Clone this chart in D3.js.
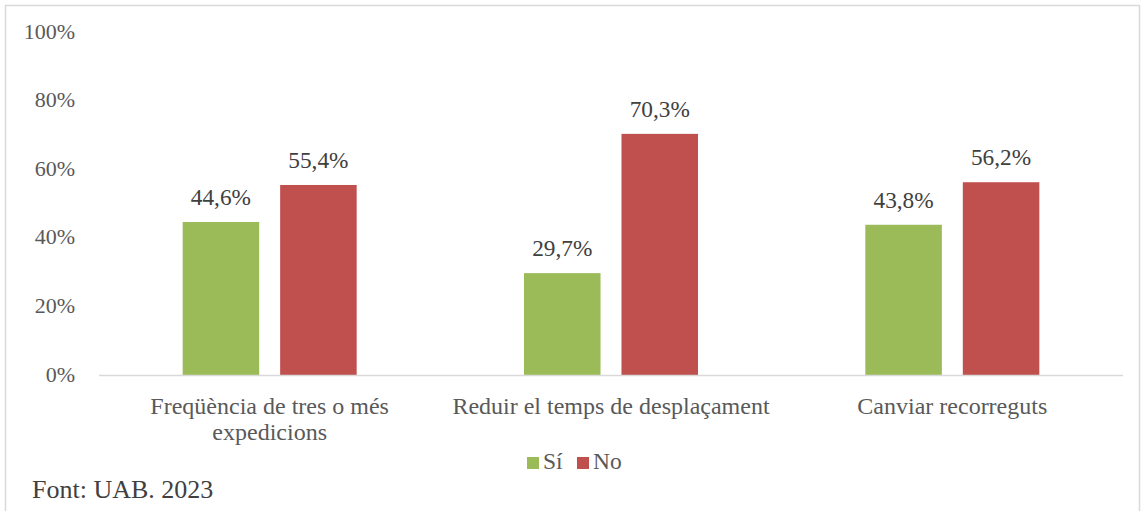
<!DOCTYPE html>
<html>
<head>
<meta charset="utf-8">
<script src="https://cdn.jsdelivr.net/npm/d3@7"></script>
<style>
  body { margin: 0; background: #fff; }
</style>
</head>
<body>
<div id="chart"></div>
<script>
// data
var categories = [["Freqüència de tres o més", "expedicions"], ["Reduir el temps de desplaçament"], ["Canviar recorreguts"]];
var series = ["Sí", "No"];
var valuesSi = [44.6, 29.7, 43.8];
var valuesNo = [55.4, 70.3, 56.2];
var yTicks = [0, 20, 40, 60, 80, 100];
var colors = ["#9bbb59", "#c0504d"];

var width = 1145, height = 511;
var margin = {top: 32, left: 99, right: 22, bottom: 136};
var serif = "'Liberation Serif', 'Times New Roman', serif";

var svg = d3.select("#chart").append("svg")
  .attr("width", width)
  .attr("height", height);

// chart border
svg.append("rect")
  .attr("x", 5.5).attr("y", 5.5)
  .attr("width", 1134).attr("height", 540)
  .attr("fill", "none")
  .attr("stroke", "#d9d9d9")
  .attr("stroke-width", 1.5);

var x0 = d3.scaleBand()
  .domain(d3.range(categories.length))
  .range([margin.left, width - margin.right])
  .padding(0);

var groupW = 174;
var x1 = d3.scaleBand()
  .domain(series)
  .range([0, groupW])
  .paddingInner(0.215)
  .paddingOuter(0);

var y = d3.scaleLinear()
  .domain([0, 100])
  .range([height - margin.bottom, margin.top]);

// y tick labels
svg.append("g")
  .selectAll("text")
  .data(yTicks)
  .enter().append("text")
  .attr("x", 75)
  .attr("y", function(d) { return y(d) + 6.5; })
  .attr("text-anchor", "end")
  .attr("font-family", serif)
  .style("font-size", "22px")
  .style("fill", "#595959")
  .text(function(d) { return d + "%"; });

// bars
var rows = categories.map(function(c, i) {
  return [{s: "Sí", v: valuesSi[i], c: 0}, {s: "No", v: valuesNo[i], c: 1}];
});

var groups = svg.selectAll("g.grp")
  .data(rows)
  .enter().append("g")
  .attr("class", "grp")
  .attr("transform", function(d, i) {
    return "translate(" + (x0(i) + x0.bandwidth() / 2 - groupW / 2) + ",0)";
  });

groups.selectAll("rect")
  .data(function(d) { return d; })
  .enter().append("rect")
  .attr("x", function(d) { return x1(d.s); })
  .attr("y", function(d) { return y(d.v); })
  .attr("width", x1.bandwidth())
  .attr("height", function(d) { return y(0) - y(d.v); })
  .attr("fill", function(d) { return colors[d.c]; });

groups.selectAll("text")
  .data(function(d) { return d; })
  .enter().append("text")
  .attr("x", function(d) { return x1(d.s) + x1.bandwidth() / 2; })
  .attr("y", function(d) { return y(d.v) - 17; })
  .attr("text-anchor", "middle")
  .attr("font-family", serif)
  .style("font-size", "23.3px")
  .style("fill", "#404040")
  .text(function(d) { return d.v.toFixed(1).replace(".", ",") + "%"; });

// baseline
svg.append("line")
  .attr("x1", margin.left).attr("x2", width - margin.right)
  .attr("y1", y(0) + 0.5).attr("y2", y(0) + 0.5)
  .attr("stroke", "#d9d9d9")
  .attr("stroke-width", 1.5);

// category labels
var catLabels = svg.append("g")
  .selectAll("text")
  .data(categories)
  .enter().append("text")
  .attr("text-anchor", "middle")
  .attr("x", function(d, i) { return x0(i) + x0.bandwidth() / 2; })
  .attr("y", 414)
  .attr("font-family", serif)
  .style("font-size", "24px")
  .style("fill", "#595959");

catLabels.selectAll("tspan")
  .data(function(d) { return d; })
  .enter().append("tspan")
  .attr("x", function() { return d3.select(this.parentNode).attr("x"); })
  .attr("dy", function(d, i) { return i === 0 ? 0 : 26; })
  .text(function(d) { return d; });

// legend
var legend = svg.append("g");
var legendX = [527, 577];
series.forEach(function(s, i) {
  legend.append("rect")
    .attr("x", legendX[i]).attr("y", 457)
    .attr("width", 12).attr("height", 12)
    .attr("fill", colors[i]);
  legend.append("text")
    .attr("x", legendX[i] + 16).attr("y", 469)
    .attr("font-family", serif)
    .style("font-size", "23.5px")
    .style("fill", "#595959")
    .text(s);
});

// source
svg.append("text")
  .attr("x", 32).attr("y", 498)
  .attr("font-family", serif)
  .style("font-size", "26px")
  .style("fill", "#404040")
  .text("Font: UAB. 2023");
</script>
</body>
</html>
